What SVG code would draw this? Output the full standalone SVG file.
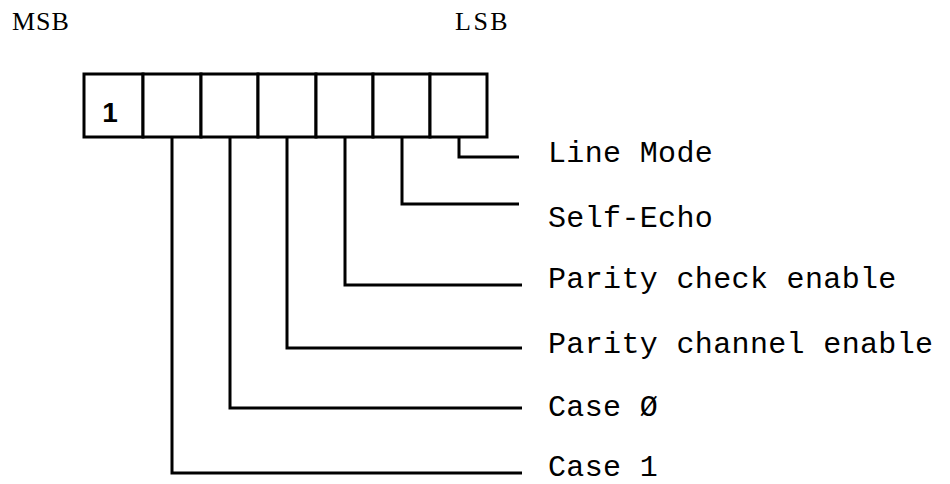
<svg xmlns="http://www.w3.org/2000/svg" width="950" height="484" viewBox="0 0 950 484">
<style>
.bg{fill:#fff}
.cell{fill:#fff;stroke:#000;stroke-width:3}
.wire{fill:none;stroke:#000;stroke-width:3;stroke-linejoin:miter}
.lbl{font-family:"Liberation Mono","Courier New",monospace;font-size:30px;letter-spacing:0.35px;fill:#000}
.hdr{font-family:"Liberation Serif","Times New Roman",serif;font-size:26px;fill:#000}
.bit{font-family:"Liberation Sans",Arial,sans-serif;font-size:28px;font-weight:bold;fill:#000}
</style>
<rect class="bg" x="0" y="0" width="950" height="484"/>
<g id="headers">
<text class="hdr" x="12" y="30" letter-spacing="1">MSB</text>
<text class="hdr" x="455" y="30" letter-spacing="2.5">LSB</text>
</g>
<g id="register">
<rect class="cell" x="84" y="74" width="59" height="63"/>
<rect class="cell" x="143" y="74" width="58" height="63"/>
<rect class="cell" x="201" y="74" width="57" height="63"/>
<rect class="cell" x="258" y="74" width="58" height="63"/>
<rect class="cell" x="316" y="74" width="57" height="63"/>
<rect class="cell" x="373" y="74" width="57" height="63"/>
<rect class="cell" x="430" y="74" width="57" height="63"/>
<text class="bit" x="110" y="122" text-anchor="middle">1</text>
</g>
<g id="connectors">
<path class="wire" d="M459 137 V157 H519"/>
<path class="wire" d="M402 137 V204 H519"/>
<path class="wire" d="M345 137 V285 H522"/>
<path class="wire" d="M287 137 V348 H522"/>
<path class="wire" d="M230 137 V408 H522"/>
<path class="wire" d="M172 137 V473 H522"/>
</g>
<g id="label-line-mode"><text class="lbl" x="548" y="162">Line Mode</text></g>
<g id="label-self-echo"><text class="lbl" x="548" y="227">Self-Echo</text></g>
<g id="label-parity-check"><text class="lbl" x="548" y="288">Parity check enable</text></g>
<g id="label-parity-channel"><text class="lbl" x="548" y="353">Parity channel enable</text></g>
<g id="label-case0"><text class="lbl" x="548" y="416">Case Ø</text></g>
<g id="label-case1"><text class="lbl" x="548" y="476">Case 1</text></g>
</svg>
